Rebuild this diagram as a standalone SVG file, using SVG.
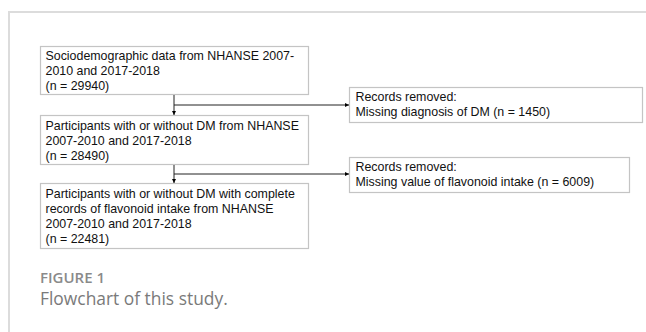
<svg xmlns="http://www.w3.org/2000/svg" width="646" height="332" viewBox="0 0 646 332">
<defs>
<marker id="ah" viewBox="0 0 6 6" refX="6" refY="3" markerWidth="4" markerHeight="4" orient="auto" markerUnits="userSpaceOnUse">
<path d="M0,0 L6,3 L0,6 z" fill="#000"/>
</marker>
</defs>
<style>
.box{fill:#fff;stroke:#c4c4c4;stroke-width:1.2}
.t{font-family:"Liberation Sans",Arial,sans-serif;font-size:12.4px;fill:#111}
.ln{stroke:#222;stroke-width:1;fill:none}
.frame{stroke:#dcdcdc;stroke-width:2;fill:none}
.cap1{font-family:"Open Sans","Noto Sans",sans-serif;font-size:15px;font-weight:600;fill:#8a8a8a}
.cap2{font-family:"Open Sans","Noto Sans",sans-serif;font-size:17.4px;fill:#7a7a7a}
</style>
<rect width="646" height="332" fill="#fff"/>
<path class="frame" d="M9,332 V12 H646"/>
<g id="n1">
<rect class="box" x="40.5" y="46.5" width="268" height="48"/>
<text class="t" x="45.5" y="60">Sociodemographic data from NHANSE 2007-</text>
<text class="t" x="45.5" y="75">2010 and 2017-2018</text>
<text class="t" x="45.5" y="90">(n = 29940)</text>
</g>
<g id="n2">
<rect class="box" x="40.5" y="115.5" width="268" height="49"/>
<text class="t" x="45.5" y="130">Participants with or without DM from NHANSE</text>
<text class="t" x="45.5" y="145">2007-2010 and 2017-2018</text>
<text class="t" x="45.5" y="160">(n = 28490)</text>
</g>
<g id="n3">
<rect class="box" x="40.5" y="183.5" width="268" height="65"/>
<text class="t" x="45.5" y="198">Participants with or without DM with complete</text>
<text class="t" x="45.5" y="213">records of flavonoid intake from NHANSE</text>
<text class="t" x="45.5" y="228">2007-2010 and 2017-2018</text>
<text class="t" x="45.5" y="243">(n = 22481)</text>
</g>
<g id="r1">
<rect class="box" x="349.5" y="87.5" width="293" height="35"/>
<text class="t" x="355.5" y="101">Records removed:</text>
<text class="t" x="355.5" y="116">Missing diagnosis of DM (n = 1450)</text>
</g>
<g id="r2">
<rect class="box" x="349.5" y="157.5" width="280" height="35"/>
<text class="t" x="355.5" y="171">Records removed:</text>
<text class="t" x="355.5" y="186">Missing value of flavonoid intake (n = 6009)</text>
</g>
<g id="connectors">
<line class="ln" x1="174" y1="95" x2="174" y2="115" marker-end="url(#ah)"/>
<line class="ln" x1="174" y1="105" x2="349" y2="105" marker-end="url(#ah)"/>
<line class="ln" x1="174" y1="165" x2="174" y2="183" marker-end="url(#ah)"/>
<line class="ln" x1="174" y1="174" x2="349" y2="174" marker-end="url(#ah)"/>
</g>
<text class="cap1" x="40" y="283">FIGURE 1</text>
<text class="cap2" x="40" y="305">Flowchart of this study.</text>
</svg>
